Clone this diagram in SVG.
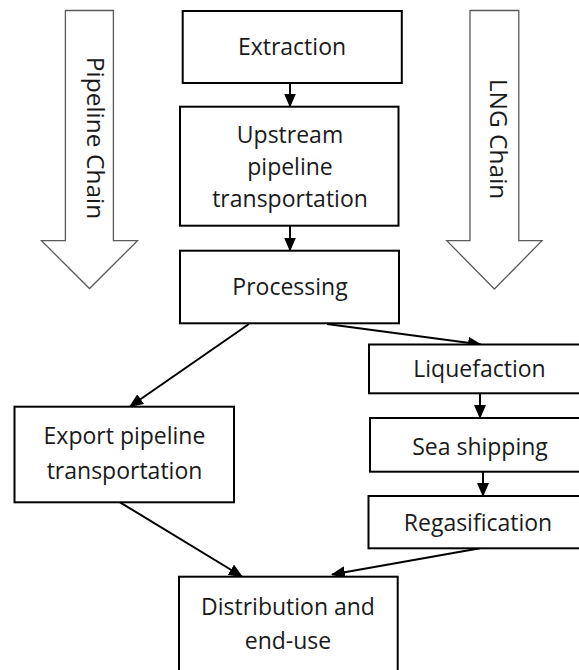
<svg xmlns="http://www.w3.org/2000/svg" width="579" height="670" viewBox="0 0 579 670">
<style>
  .box { fill: #fff; stroke: #000; stroke-width: 2; }
  .big { fill: #fff; stroke: #5a5a5a; stroke-width: 1.3; stroke-linejoin: miter; }
  .t { font-family: "Open Sans", "Noto Sans", "Liberation Sans", sans-serif; font-size: 23px; fill: #1a1a1a; text-anchor: middle; }
  .ct { font-family: "Open Sans", "Noto Sans", "Liberation Sans", sans-serif; font-size: 24.5px; font-weight: 400; fill: #1a1a1a; text-anchor: middle; }
  .c { stroke: #000; stroke-width: 2; fill: none; marker-end: url(#ah); }
</style>
<defs>
  <marker id="ah" markerUnits="userSpaceOnUse" markerWidth="14" markerHeight="12" refX="13" refY="6" orient="auto">
    <path d="M0,0 L14,6 L0,12 z" fill="#000"/>
  </marker>
</defs>
<rect width="579" height="670" fill="#fff"/>

<g id="pipeline-chain">
  <polygon class="big" points="65.4,10.5 113.4,10.5 113.4,240.7 137.5,240.7 89.5,288.5 41.5,240.7 65.4,240.7"/>
  <text class="ct" transform="translate(87,138) rotate(90)">Pipeline Chain</text>
</g>
<g id="lng-chain">
  <polygon class="big" points="470,10.5 518.8,10.5 518.8,240.7 542,240.7 494.4,289 446.8,240.7 470,240.7"/>
  <text class="ct" transform="translate(490,139) rotate(90)">LNG Chain</text>
</g>

<g id="connectors">
  <line class="c" x1="290" y1="83" x2="290" y2="106.5"/>
  <line class="c" x1="290" y1="225.7" x2="290" y2="250.5"/>
  <line class="c" x1="249" y1="324" x2="130" y2="406.5"/>
  <line class="c" x1="327" y1="324" x2="481" y2="344.5"/>
  <line class="c" x1="480" y1="393.3" x2="480" y2="418"/>
  <line class="c" x1="483" y1="471.7" x2="483" y2="496"/>
  <line class="c" x1="120" y1="502.3" x2="242" y2="576.5"/>
  <line class="c" x1="480" y1="548.3" x2="332" y2="574.5"/>
</g>

<g id="extraction">
  <rect class="box" x="182.7" y="11" width="219.1" height="72"/>
  <text class="t" x="292" y="55">Extraction</text>
</g>
<g id="upstream">
  <rect class="box" x="180" y="106.7" width="218.5" height="119"/>
  <text class="t" x="290" y="143">Upstream</text>
  <text class="t" x="290" y="175">pipeline</text>
  <text class="t" x="290" y="207">transportation</text>
</g>
<g id="processing">
  <rect class="box" x="180" y="250.7" width="219" height="72.6"/>
  <text class="t" x="290" y="295">Processing</text>
</g>
<g id="liquefaction">
  <rect class="box" x="369" y="344.5" width="222" height="48.8"/>
  <text class="t" x="479.5" y="377">Liquefaction</text>
</g>
<g id="sea-shipping">
  <rect class="box" x="370" y="418" width="222" height="53.7"/>
  <text class="t" x="480" y="454.5">Sea shipping</text>
</g>
<g id="regasification">
  <rect class="box" x="368.5" y="496" width="222" height="52.3"/>
  <text class="t" x="478" y="531">Regasification</text>
</g>
<g id="export-pipeline">
  <rect class="box" x="14.5" y="406.7" width="219.5" height="95.6"/>
  <text class="t" x="124.5" y="444">Export pipeline</text>
  <text class="t" x="124.5" y="479">transportation</text>
</g>
<g id="distribution">
  <rect class="box" x="179" y="576.7" width="218.7" height="110"/>
  <text class="t" x="288" y="614.5">Distribution and</text>
  <text class="t" x="288" y="648.5">end-use</text>
</g>
</svg>
